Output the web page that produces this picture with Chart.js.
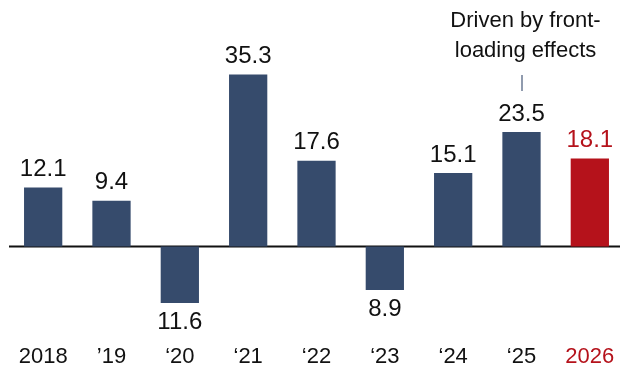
<!DOCTYPE html>
<html>
<head>
<meta charset="utf-8">
<script src="https://cdn.jsdelivr.net/npm/chart.js@4"></script>
<style>
html,body{margin:0;padding:0;background:#fff;overflow:hidden;}
#wrap{width:624px;height:369px;position:relative;}
</style>
</head>
<body>
<div id="wrap"><canvas id="c"></canvas></div>
<script>
const categories = ["2018", "\u201919", "\u201820", "\u201821", "\u201822", "\u201823", "\u201824", "\u201825", "2026"];
const values = [12.1, 9.4, -11.6, 35.3, 17.6, -8.9, 15.1, 23.5, 18.1];
const valueLabels = ["12.1", "9.4", "11.6", "35.3", "17.6", "8.9", "15.1", "23.5", "18.1"];
const annotationLines = ["Driven by front-", "loading effects"];
const annotationIndex = 7;

const NAVY = "#364b6c";
const RED = "#b5121b";
const FONT = "'Liberation Sans', Arial, sans-serif";
const highlight = categories.length - 1;

const labelPlugin = {
  id: "labels",
  beforeDatasetsDraw(chart) {
    const {ctx, chartArea, scales} = chart;
    const y0 = scales.y.getPixelForValue(0);
    ctx.save();
    ctx.strokeStyle = "#111";
    ctx.lineWidth = 2;
    ctx.beginPath();
    ctx.moveTo(chartArea.left, y0);
    ctx.lineTo(chartArea.right + 10, y0);
    ctx.stroke();
    ctx.restore();
  },
  afterDatasetsDraw(chart) {
    const {ctx} = chart;
    const meta = chart.getDatasetMeta(0);
    ctx.save();
    ctx.font = "24px " + FONT;
    ctx.textAlign = "center";
    ctx.textBaseline = "middle";
    meta.data.forEach((bar, i) => {
      ctx.fillStyle = i === highlight ? RED : "#111";
      const v = values[i];
      const y = v >= 0 ? bar.y - 18 : bar.y + 19;
      ctx.fillText(valueLabels[i], bar.x, y);
    });
    const b = meta.data[annotationIndex];
    ctx.font = "22px " + FONT;
    ctx.fillStyle = "#111";
    ctx.fillText(annotationLines[0], b.x + 4, 21);
    ctx.fillText(annotationLines[1], b.x + 4, 51);
    ctx.strokeStyle = "#6b7a93";
    ctx.lineWidth = 1.5;
    ctx.beginPath();
    ctx.moveTo(Math.round(b.x), 75);
    ctx.lineTo(Math.round(b.x), 91);
    ctx.stroke();
    ctx.restore();
  }
};

new Chart(document.getElementById("c"), {
  type: "bar",
  data: {
    labels: categories,
    datasets: [{
      data: values,
      backgroundColor: values.map((v, i) => i === highlight ? RED : NAVY),
      borderWidth: 0,
      categoryPercentage: 1,
      barPercentage: 0.56
    }]
  },
  options: {
    responsive: true,
    maintainAspectRatio: false,
    animation: false,
    layout: {padding: {left: 9, right: 0, top: 3, bottom: 0}},
    plugins: {legend: {display: false}, tooltip: {enabled: false}},
    scales: {
      x: {
        grid: {display: false, drawTicks: false},
        border: {display: false},
        afterFit(scale) {
          scale.height = 49.4;
          scale.paddingLeft = 0;
          scale.paddingRight = 0;
        },
        ticks: {
          padding: 24,
          font: {size: 22, family: FONT},
          color: (c) => c.index === highlight ? RED : "#111",
          maxRotation: 0,
          minRotation: 0,
          autoSkip: false
        }
      },
      y: {
        display: false,
        min: -15,
        max: 50
      }
    }
  },
  plugins: [labelPlugin]
});
</script>
</body>
</html>
